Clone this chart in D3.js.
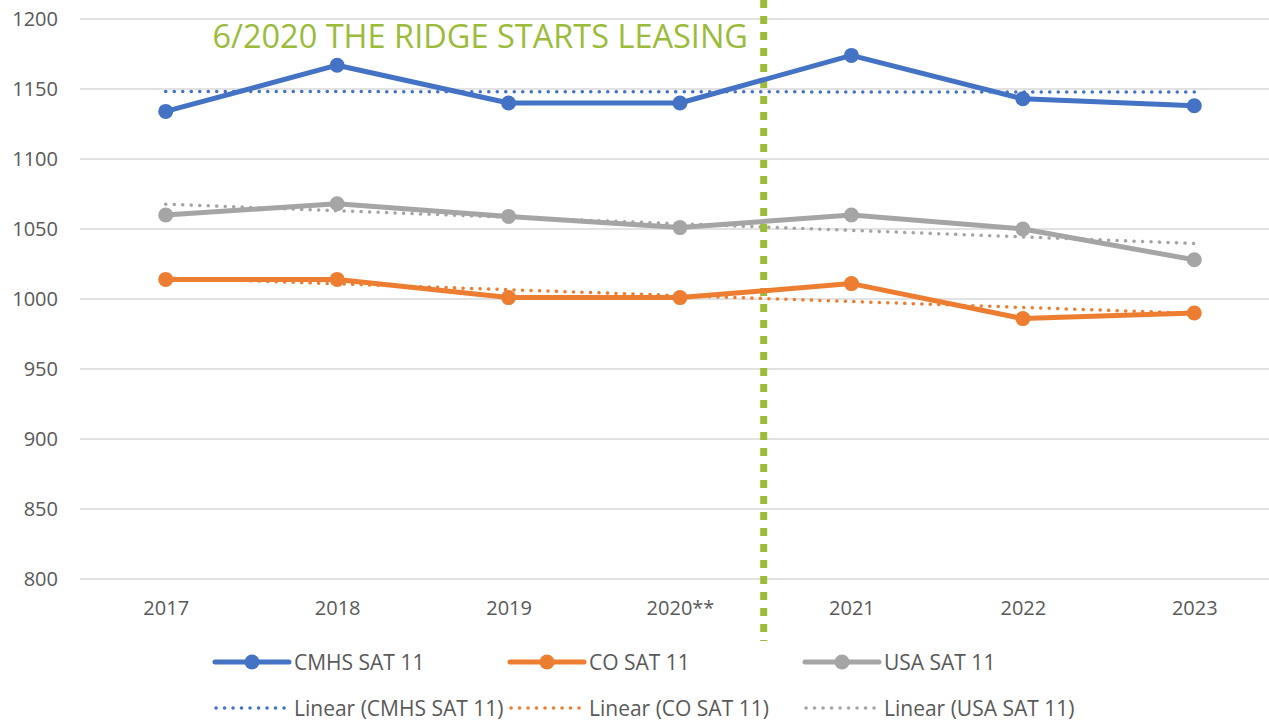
<!DOCTYPE html>
<html>
<head>
<meta charset="utf-8">
<script src="https://cdn.jsdelivr.net/npm/d3@7"></script>
<style>
  body { margin: 0; background: #fff; }
  svg { display: block; font-family: "Open Sans", "Noto Sans", sans-serif; }
</style>
</head>
<body>
<div id="chart"></div>
<script>
var years = ["2017", "2018", "2019", "2020**", "2021", "2022", "2023"];
var cmhs = [1134, 1167, 1140, 1140, 1174, 1143, 1138];
var co = [1014, 1014, 1001, 1001, 1011, 986, 990];
var usa = [1060, 1068, 1059, 1051, 1060, 1050, 1028];
var yTicks = [800, 850, 900, 950, 1000, 1050, 1100, 1150, 1200];
var seriesNames = ["CMHS SAT 11", "CO SAT 11", "USA SAT 11"];
var eventLabel = "6/2020 THE RIDGE STARTS LEASING";

var width = 1269, height = 721;
var colors = ["#4472C4", "#ED7D31", "#A5A5A5"];
var green = "#9BBB3B";

var svg = d3.select("#chart").append("svg")
    .attr("width", width)
    .attr("height", height);

var xScale = d3.scalePoint()
    .domain(years)
    .range([80, 1280])
    .padding(0.5);

var yScale = d3.scaleLinear()
    .domain([800, 1200])
    .range([579, 19]);

// gridlines
svg.append("g")
    .selectAll("line")
    .data(yTicks)
    .enter()
    .append("line")
    .attr("x1", 80)
    .attr("x2", width)
    .attr("y1", function(d){ return yScale(d); })
    .attr("y2", function(d){ return yScale(d); })
    .attr("stroke", "#d9d9d9")
    .attr("stroke-width", 1.3);

// y axis labels
var yAxis = svg.append("g")
    .attr("transform", "translate(65,0)")
    .call(d3.axisLeft(yScale).tickValues(yTicks).tickFormat(d3.format("d")).tickSize(0).tickPadding(7));
yAxis.select(".domain").remove();
yAxis.selectAll("text")
    .attr("fill", "#595959")
    .style("font-size", "20px")
    .style("font-family", "Open Sans, sans-serif");

// x axis labels
var xAxis = svg.append("g")
    .attr("transform", "translate(0,601)")
    .call(d3.axisBottom(xScale).tickSize(0).tickPadding(0));
xAxis.select(".domain").remove();
xAxis.selectAll("text")
    .attr("fill", "#595959")
    .style("font-size", "20px")
    .style("font-family", "Open Sans, sans-serif");

// linear trend (least squares, like the spreadsheet trendline)
function trend(values) {
    var n = values.length;
    var xm = (n - 1) / 2;
    var ym = d3.mean(values);
    var num = d3.sum(values, function(v, i){ return (i - xm) * (v - ym); });
    var den = d3.sum(values, function(v, i){ return (i - xm) * (i - xm); });
    var slope = num / den;
    return values.map(function(v, i){ return ym + slope * (i - xm); });
}

var allSeries = [cmhs, co, usa];

var line = d3.line()
    .x(function(d, i){ return xScale(years[i]); })
    .y(function(d){ return yScale(d); });

// trend lines
allSeries.forEach(function(s, k){
    svg.append("path")
        .datum(trend(s))
        .attr("d", line)
        .attr("fill", "none")
        .attr("stroke", colors[k])
        .attr("stroke-width", 3.5)
        .attr("stroke-linecap", "round")
        .attr("stroke-dasharray", "0.1 8.4");
});

// event line
var eventX = (xScale("2020**") + xScale("2021")) / 2 - 2;
svg.append("line")
    .attr("x1", eventX)
    .attr("x2", eventX)
    .attr("y1", 0)
    .attr("y2", 641)
    .attr("stroke", green)
    .attr("stroke-width", 7)
    .attr("stroke-dasharray", "8 8");

// data lines
allSeries.forEach(function(s, k){
    svg.append("path")
        .datum(s)
        .attr("d", line)
        .attr("fill", "none")
        .attr("stroke", colors[k])
        .attr("stroke-width", 5)
        .attr("stroke-linejoin", "round");

    svg.append("g")
        .selectAll("circle")
        .data(s)
        .enter()
        .append("circle")
        .attr("cx", function(d, i){ return xScale(years[i]); })
        .attr("cy", function(d){ return yScale(d); })
        .attr("r", 7.5)
        .attr("fill", colors[k]);
});

// event text
svg.append("text")
    .attr("x", 748)
    .attr("y", 48)
    .attr("text-anchor", "end")
    .attr("fill", green)
    .style("font-size", "32.5px")
    .text(eventLabel);

// legend
var legendX = [215, 510, 805];
seriesNames.forEach(function(name, k){
    var g = svg.append("g").attr("transform", "translate(" + legendX[k] + ",0)");
    g.append("line")
        .attr("x1", 0).attr("x2", 74)
        .attr("y1", 662).attr("y2", 662)
        .attr("stroke", colors[k])
        .attr("stroke-width", 5)
        .attr("stroke-linecap", "round");
    g.append("circle")
        .attr("cx", 37).attr("cy", 662).attr("r", 7.5)
        .attr("fill", colors[k]);
    g.append("text")
        .attr("x", 79).attr("y", 669.5)
        .attr("fill", "#595959")
        .style("font-size", "21px")
        .text(name);

    g.append("line")
        .attr("x1", 1).attr("x2", 72)
        .attr("y1", 708).attr("y2", 708)
        .attr("stroke", colors[k])
        .attr("stroke-width", 3.5)
        .attr("stroke-linecap", "round")
        .attr("stroke-dasharray", "0.1 8.4");
    g.append("text")
        .attr("x", 79).attr("y", 715.5)
        .attr("fill", "#595959")
        .style("font-size", "21px")
        .text("Linear (" + name + ")");
});
</script>
</body>
</html>
